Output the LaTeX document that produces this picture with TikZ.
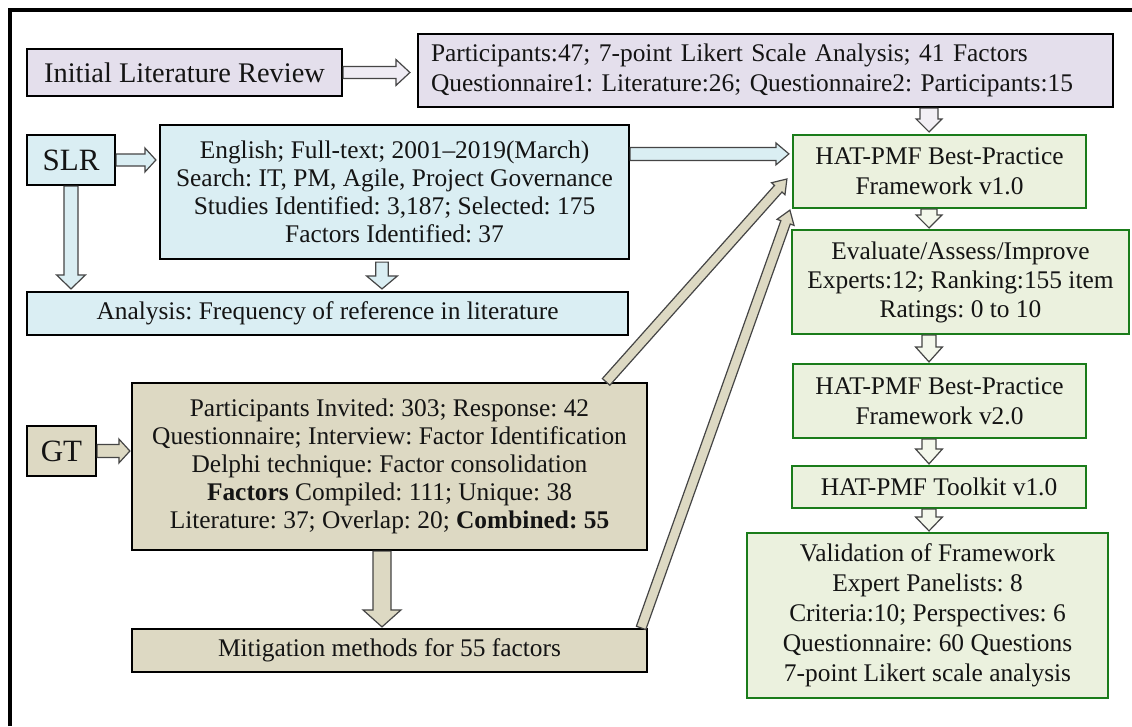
\documentclass[tikz,border=0pt]{standalone}
\usepackage{fontspec}
\setmainfont{Liberation Serif}
\usetikzlibrary{calc}
\frenchspacing

\definecolor{lavfill}{HTML}{E4DFEC}
\definecolor{skyfill}{HTML}{DAEEF3}
\definecolor{tanfill}{HTML}{DDD9C3}
\definecolor{palegreen}{HTML}{EBF1DE}
\definecolor{framegreen}{HTML}{1A7C1A}
\definecolor{arrowgrey}{HTML}{454545}
\definecolor{inkc}{HTML}{141414}

\tikzset{
  box/.style={draw=black, line width=2.2pt, inner sep=0pt, align=center, text=inkc},
  dims/.style 2 args={minimum width=#1pt, minimum height=#2pt},
  purplebox/.style={box, fill=lavfill, font=\fontsize{25.4}{30}\selectfont},
  bluebox/.style={box, fill=skyfill, font=\fontsize{25.4}{28}\selectfont},
  tanbox/.style={box, fill=tanfill, font=\fontsize{25.4}{28}\selectfont},
  greenbox/.style={box, draw=framegreen, fill=palegreen, font=\fontsize{25.4}{30}\selectfont},
  bigtext/.style={font=\fontsize{31}{33}\selectfont},
  arrowline/.style={draw=arrowgrey, line width=1.2pt, line join=miter},
}

% hollow block arrow: fill, from, to, shaft half-width, head half-width, head length
\newcommand\blockarrow[6]{%
  \coordinate (bahead) at ($(#3)!#6pt!(#2)$);
  \filldraw[arrowline, fill=#1]
    ($(#2)!#4pt!90:(#3)$) -- ($(bahead)!#4pt!-90:(#2)$) -- ($(bahead)!#5pt!-90:(#2)$)
    -- (#3) -- ($(bahead)!#5pt!90:(#2)$) -- ($(bahead)!#4pt!90:(#2)$)
    -- ($(#2)!#4pt!-90:(#3)$) -- cycle;
}

\begin{document}
\begin{tikzpicture}[x=1pt, y=-1pt]
\useasboundingbox (0,0) rectangle (1132,726);
\fill[white] (0,0) rectangle (1132,726);
\draw[line width=4pt] (9.5,726) -- (9.5,10) -- (1132,10);

% left column
\node[purplebox, dims={315}{47}, font=\fontsize{28.4}{30}\selectfont] (ilr) at (184.5,72.5) {Initial Literature Review};
\node[purplebox, dims={695}{73}, text width=669pt, align=left, inner xsep=13pt] (part) at (765.5,70.5)
  {Participants:47; 7-point Likert Scale Analysis; 41 Factors\\Questionnaire1: Literature:26; Questionnaire2: Participants:15};

\node[bluebox, bigtext, dims={88}{50}] (slr) at (71,160) {SLR};
\node[bluebox, dims={469}{134}] (eng) at (394.5,192)
  {English; Full-text; 2001–2019(March)\\Search: IT, PM, Agile, Project Governance\\Studies Identified: 3,187; Selected: 175\\Factors Identified: 37};
\node[bluebox, dims={601}{43}] (ana) at (327.5,313.5) {Analysis: Frequency of reference in literature};

\node[tanbox, bigtext, dims={69}{50}] (gt) at (61.5,451) {GT};
\node[tanbox, dims={515}{167}] (gtm) at (389.5,466.5)
  {Participants Invited: 303; Response: 42\\Questionnaire; Interview: Factor Identification\\Delphi technique: Factor consolidation\\\textbf{Factors} Compiled: 111; Unique: 38\\Literature: 37; Overlap: 20; \textbf{Combined: 55}};
\node[tanbox, dims={515}{43}] (mit) at (389.5,650.5) {Mitigation methods for 55 factors};

% right column
\node[greenbox, dims={293}{73}] (v1) at (939.5,171.5) {HAT-PMF Best-Practice\\Framework v1.0};
\node[greenbox, dims={337}{104}, font=\fontsize{25.4}{29}\selectfont] (eval) at (960.5,282)
  {Evaluate/Assess/Improve\\Experts:12; Ranking:155 item\\Ratings: 0 to 10};
\node[greenbox, dims={293}{74}] (v2) at (939.5,401) {HAT-PMF Best-Practice\\Framework v2.0};
\node[greenbox, dims={294}{42}] (tk) at (939,487) {HAT-PMF Toolkit v1.0};
\node[greenbox, dims={361}{165}] (val) at (927.5,615.5)
  {Validation of Framework\\Expert Panelists: 8\\Criteria:10; Perspectives: 6\\Questionnaire: 60 Questions\\7-point Likert scale analysis};

% arrow end points
\coordinate (gcol) at (929,0);
\coordinate (acol) at (382,0);
\coordinate (ilrTip) at ($(ilr.east -| part.west)+(-7,0)$);
\coordinate (slrTip) at ($(slr.east -| eng.west)+(-3,0)$);
\coordinate (engOut) at ($(eng.north east)+(0,30)$);
\coordinate (engTip) at ($(engOut -| v1.west)+(-3,0)$);
\coordinate (slrDown) at ($(slr.south |- ana.north)+(0,-2)$);
\coordinate (engBase) at ($(eng.south -| acol)+(0,2)$);
\coordinate (engDown) at ($(ana.north -| acol)+(0,-2)$);
\coordinate (gtTip) at ($(gt.east -| gtm.west)+(-1,0)$);
\coordinate (gtmBase) at (gtm.south -| acol);
\coordinate (gtmDown) at ($(mit.north -| acol)+(0,-1)$);
\coordinate (diagAs) at ($(gtm.north east)+(-42,0)$);
\coordinate (diagAe) at ($(v1.west)+(-5,7.5)$);
\coordinate (diagBs) at ($(mit.north east)+(-7,0)$);
\coordinate (diagBe) at ($(v1.south west)+(-2,1)$);
\coordinate (p1s) at (part.south -| gcol);
\coordinate (p1e) at ($(v1.north -| gcol)+(0,-2)$);
\coordinate (g1s) at (v1.south -| gcol);
\coordinate (g1e) at ($(eval.north -| gcol)+(0,-1)$);
\coordinate (g2s) at (eval.south -| gcol);
\coordinate (g2e) at ($(v2.north -| gcol)+(0,-1)$);
\coordinate (g3s) at (v2.south -| gcol);
\coordinate (g3e) at ($(tk.north -| gcol)+(0,-1)$);
\coordinate (g4s) at (tk.south -| gcol);
\coordinate (g4e) at ($(val.north -| gcol)+(0,-1)$);

% connectors
\blockarrow{lavfill!60!white}{ilr.east}{ilrTip}{6}{13}{14}
\blockarrow{lavfill!50!white}{p1s}{p1e}{9}{13}{13}
\blockarrow{skyfill}{slr.east}{slrTip}{6}{12}{11}
\blockarrow{skyfill}{engOut}{engTip}{6.5}{11}{13}
\blockarrow{skyfill}{slr.south}{slrDown}{7}{14.5}{14}
\blockarrow{skyfill}{engBase}{engDown}{6.3}{15.5}{13}
\blockarrow{tanfill}{gt.east}{gtTip}{6.5}{12}{11}
\blockarrow{tanfill}{gtmBase}{gtmDown}{9}{19}{17}
\blockarrow{tanfill}{diagAs}{diagAe}{5}{9}{13}
\blockarrow{tanfill}{diagBs}{diagBe}{5}{9}{13}
\blockarrow{palegreen!60!white}{g1s}{g1e}{8}{13}{13}
\blockarrow{palegreen!60!white}{g2s}{g2e}{7}{13.5}{15}
\blockarrow{palegreen!60!white}{g3s}{g3e}{7}{13.5}{15}
\blockarrow{palegreen!60!white}{g4s}{g4e}{7}{13.5}{14}
\end{tikzpicture}
\end{document}
